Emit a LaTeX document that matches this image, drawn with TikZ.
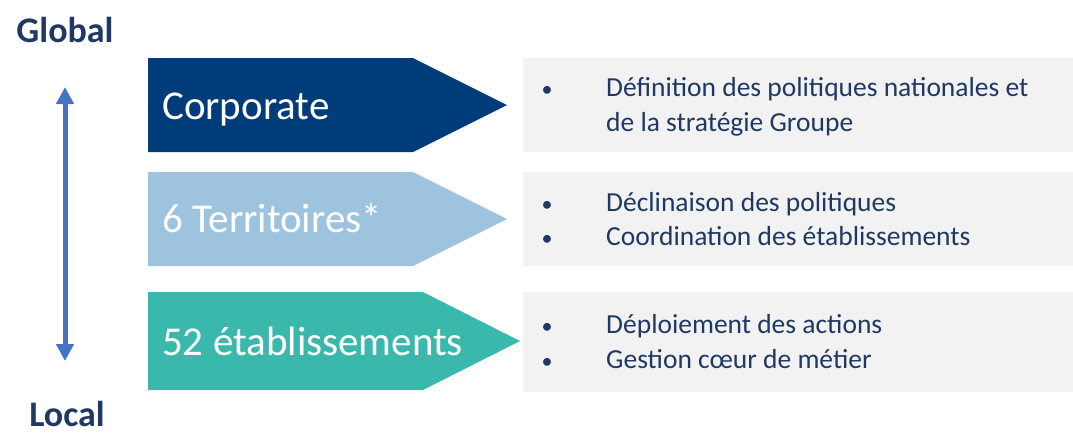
\documentclass[tikz,border=0pt]{standalone}
\usepackage{fontspec}
\setmainfont{Carlito}
\usetikzlibrary{arrows.meta}

\definecolor{corpblue}{HTML}{003B7A}
\definecolor{terrblue}{HTML}{9EC3DE}
\definecolor{etabgreen}{HTML}{3BB8AC}
\definecolor{boxgray}{HTML}{F2F2F2}
\definecolor{textblue}{HTML}{1F3864}
\definecolor{axisblue}{HTML}{4472C4}

\tikzset{
    levellabel/.style={anchor=base west, inner sep=0pt, text=white, font=\fontsize{41}{48}\selectfont},
    scalelabel/.style={anchor=base, inner sep=0pt, text=textblue, font=\fontsize{36}{42}\selectfont\bfseries},
    bullettext/.style={anchor=base west, inner sep=0pt, text=textblue, font=\fontsize{27.5}{33}\selectfont},
    bulletdot/.style={anchor=base, inner sep=0pt, text=textblue, font=\fontsize{22}{26}\selectfont},
}

\begin{document}
\begin{tikzpicture}[x=1pt, y=-1pt]
        \useasboundingbox (0, 0) rectangle (1073, 432);

        % grey description boxes
        \fill[boxgray] (523, 58) rectangle (1073, 152);
        \fill[boxgray] (523, 172) rectangle (1073, 266);
        \fill[boxgray] (523, 292) rectangle (1073, 392);

        % level arrows
        \fill[corpblue] (148, 58)--(413, 58)--(507, 105)--(413, 152)--(148, 152)--cycle;
        \fill[terrblue] (148, 172)--(413, 172)--(507, 219)--(413, 266)--(148, 266)--cycle;
        \fill[etabgreen] (148, 292)--(423, 292)--(520, 341)--(423, 390)--(148, 390)--cycle;

        \node[levellabel] (corp) at (162, 119) {Corporate};
        \node[levellabel] (terr) at (162, 232) {6 Territoires*};
        \node[levellabel] (etab) at (162, 355) {52 établissements};

        % scale on the left
        \node[scalelabel] (global) at (65, 42.7) {Global};
        \node[scalelabel] (local) at (67, 426) {Local};
        \coordinate (top) at (65, 87);
        \coordinate (bottom) at (65, 361);
        \draw[axisblue, line width=5pt, {Triangle[width=17pt,length=17pt]}-{Triangle[width=17pt,length=17pt]}] (top)--(bottom);

        % bullets
        \node[bulletdot] (b1) at (547, 96.7) {•};
        \node[bullettext] (t1) at (606, 96.7) {Définition des politiques nationales et};
        \node[bullettext] (t1b) at (606, 131.7) {de la stratégie Groupe};

        \node[bulletdot] (b2) at (547, 211) {•};
        \node[bullettext] (t2) at (606, 211) {Déclinaison des politiques};
        \node[bulletdot] (b3) at (547, 245.7) {•};
        \node[bullettext] (t3) at (606, 245.7) {Coordination des établissements};

        \node[bulletdot] (b4) at (547, 333) {•};
        \node[bullettext] (t4) at (606, 333) {Déploiement des actions};
        \node[bulletdot] (b5) at (547, 368) {•};
        \node[bullettext] (t5) at (606, 368) {Gestion cœur de métier};
    \end{tikzpicture}
\end{document}
